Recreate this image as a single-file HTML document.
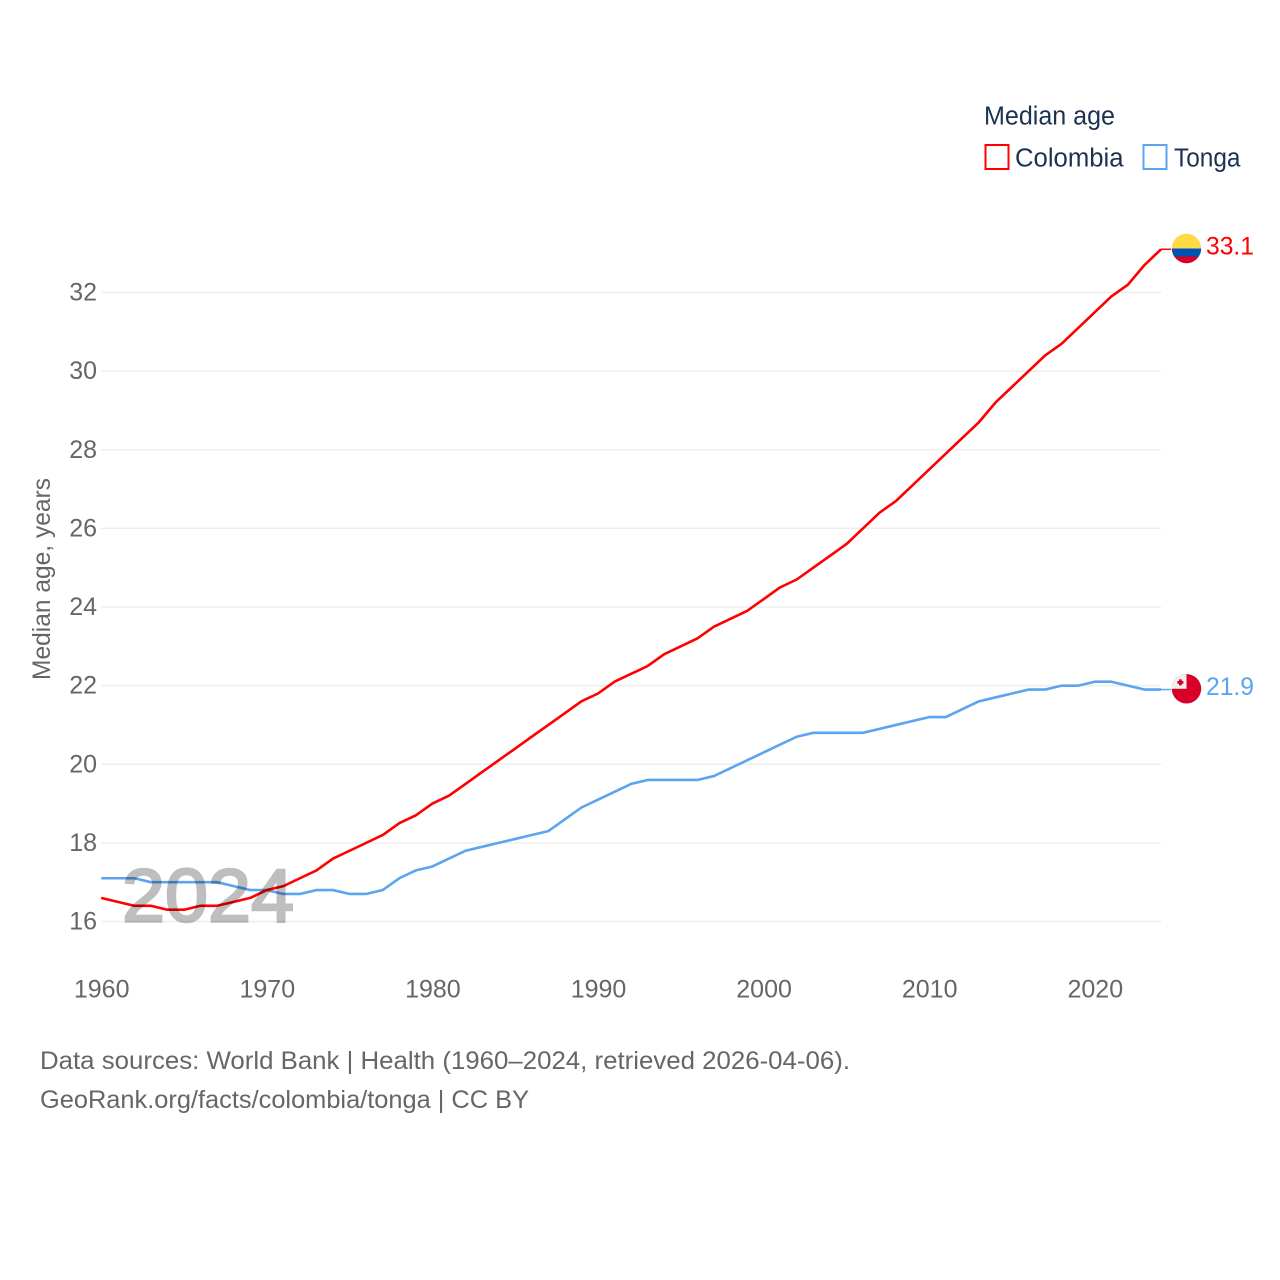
<!DOCTYPE html>
<html lang="en">
<head>
<meta charset="utf-8">
<title>Median age: Colombia and Tonga</title>
<style>
html,body{margin:0;padding:0;background:#fff;}
svg{display:block;}
text{font-family:"Liberation Sans",sans-serif;}
</style>
</head>
<body>
<svg id="chart" xmlns="http://www.w3.org/2000/svg" width="1280" height="1280" viewBox="0 0 1280 1280">
  <defs>
    <clipPath id="flag-clip"><circle cx="0" cy="0" r="14.7"></circle></clipPath>
  </defs>
  <rect width="1280" height="1280" fill="#ffffff"></rect>
  <g id="grid"></g>
  <g id="y-ticks"></g>
  <g id="x-ticks"></g>
  <text transform="translate(50,680) rotate(-90)" font-size="25" fill="#666666" textLength="202" lengthAdjust="spacingAndGlyphs">Median age, years</text>
  <g id="series"></g>
  <text id="year-watermark" x="122" y="921.5" font-size="75" fill="#000000" stroke="#000000" stroke-width="2.5" opacity="0.25" textLength="172" lengthAdjust="spacingAndGlyphs">2024</text>

  <g id="flag-colombia">
    <g clip-path="url(#flag-clip)">
      <rect x="-15" y="-15" width="30" height="15" fill="#ffda44"></rect>
      <rect x="-15" y="0" width="30" height="8" fill="#0052b4"></rect>
      <rect x="-15" y="8" width="30" height="8" fill="#d80027"></rect>
    </g>
  </g>
  <g id="flag-tonga">
    <g clip-path="url(#flag-clip)">
      <rect x="-15" y="-15" width="30" height="30" fill="#d80027"></rect>
      <rect x="-15" y="-15" width="15" height="15" fill="#f0f0f0"></rect>
      <rect x="-7.5" y="-9.4" width="2.8" height="6" fill="#d80027"></rect>
      <rect x="-9.1" y="-7.8" width="6" height="2.8" fill="#d80027"></rect>
    </g>
  </g>
  <text id="value-colombia" x="1206" y="254" font-size="25" fill="#ff0000" textLength="48" lengthAdjust="spacingAndGlyphs"></text>
  <text id="value-tonga" x="1206" y="695" font-size="25" fill="#5ba4f0" textLength="48" lengthAdjust="spacingAndGlyphs"></text>

  <g>
    <text x="984" y="124.5" font-size="25.5" fill="#1b3252" textLength="131" lengthAdjust="spacingAndGlyphs">Median age</text>
    <rect x="985.5" y="145" width="23" height="24" fill="#ffffff" stroke="#ff0000" stroke-width="2"></rect>
    <text x="1015" y="166.5" font-size="25.5" fill="#1b3252" textLength="108.5" lengthAdjust="spacingAndGlyphs">Colombia</text>
    <rect x="1143.5" y="145" width="23" height="24" fill="#ffffff" stroke="#5ba4f0" stroke-width="2"></rect>
    <text x="1174" y="166.5" font-size="25.5" fill="#1b3252" textLength="66.5" lengthAdjust="spacingAndGlyphs">Tonga</text>
  </g>

  <text x="40" y="1069" font-size="25" fill="#666666" textLength="810" lengthAdjust="spacingAndGlyphs">Data sources: World Bank | Health (1960–2024, retrieved 2026-04-06).</text>
  <text x="40" y="1108" font-size="25" fill="#666666" textLength="489" lengthAdjust="spacingAndGlyphs">GeoRank.org/facts/colombia/tonga | CC BY</text>
</svg>

<script>
var startYear = 1960;
var colombiaValues = [16.6,16.5,16.4,16.4,16.3,16.3,16.4,16.4,16.5,16.6,16.8,16.9,17.1,17.3,17.6,17.8,18.0,18.2,18.5,18.7,19.0,19.2,19.5,19.8,20.1,20.4,20.7,21.0,21.3,21.6,21.8,22.1,22.3,22.5,22.8,23.0,23.2,23.5,23.7,23.9,24.2,24.5,24.7,25.0,25.3,25.6,26.0,26.4,26.7,27.1,27.5,27.9,28.3,28.7,29.2,29.6,30.0,30.4,30.7,31.1,31.5,31.9,32.2,32.7,33.1];
var tongaValues = [17.1,17.1,17.1,17.0,17.0,17.0,17.0,17.0,16.9,16.8,16.8,16.7,16.7,16.8,16.8,16.7,16.7,16.8,17.1,17.3,17.4,17.6,17.8,17.9,18.0,18.1,18.2,18.3,18.6,18.9,19.1,19.3,19.5,19.6,19.6,19.6,19.6,19.7,19.9,20.1,20.3,20.5,20.7,20.8,20.8,20.8,20.8,20.9,21.0,21.1,21.2,21.2,21.4,21.6,21.7,21.8,21.9,21.9,22.0,22.0,22.1,22.1,22.0,21.9,21.9];
var yTickLabels = [16,18,20,22,24,26,28,30,32];
var xTickLabels = [1960,1970,1980,1990,2000,2010,2020];

var SVG_NS = 'http://www.w3.org/2000/svg';
function xScale(year){ return 101.2 + (year - 1960) * 16.56; }
function yScale(value){ return 921.5 - (value - 16) * 39.31; }

var gridGroup = document.getElementById('grid');
var yTickGroup = document.getElementById('y-ticks');
var xTickGroup = document.getElementById('x-ticks');
var seriesGroup = document.getElementById('series');
var xEnd = xScale(startYear + colombiaValues.length - 1);

yTickLabels.forEach(function(tick){
  var gridLine = document.createElementNS(SVG_NS, 'line');
  
  
  gridLine.setAttribute('x1', xScale(1960));
  gridLine.setAttribute('x2', xEnd);
  gridLine.setAttribute('y1', yScale(tick));
  gridLine.setAttribute('y2', yScale(tick));
  gridLine.setAttribute('stroke', '#eeeeee');
  gridLine.setAttribute('stroke-width', '1.5');
  gridGroup.appendChild(gridLine);

  var label = document.createElementNS(SVG_NS, 'text');
  
  
  label.setAttribute('x', 97);
  label.setAttribute('y', yScale(tick) + 8);
  label.setAttribute('text-anchor', 'end');
  label.setAttribute('font-size', '25');
  label.setAttribute('fill', '#666666');
  label.textContent = tick;
  yTickGroup.appendChild(label);
});

xTickLabels.forEach(function(tick){
  var label = document.createElementNS(SVG_NS, 'text');
  
  
  label.setAttribute('x', xScale(tick) + 0.5);
  label.setAttribute('y', 997.5);
  label.setAttribute('text-anchor', 'middle');
  label.setAttribute('font-size', '25');
  label.setAttribute('fill', '#666666');
  label.textContent = tick;
  xTickGroup.appendChild(label);
});

function pathFor(values){
  var d = '';
  values.forEach(function(value, i){
    d += (i === 0 ? 'M' : 'L') + xScale(startYear + i).toFixed(2) + ' ' + yScale(value).toFixed(2);
  });
  return d;
}

var tongaLine = document.createElementNS(SVG_NS, 'path');


tongaLine.setAttribute('d', pathFor(tongaValues));
tongaLine.setAttribute('fill', 'none');
tongaLine.setAttribute('stroke', '#5ba4f0');
tongaLine.setAttribute('stroke-width', '2.6');
tongaLine.setAttribute('stroke-linejoin', 'round');
seriesGroup.appendChild(tongaLine);

var colombiaLine = document.createElementNS(SVG_NS, 'path');


colombiaLine.setAttribute('d', pathFor(colombiaValues));
colombiaLine.setAttribute('fill', 'none');
colombiaLine.setAttribute('stroke', '#ff0000');
colombiaLine.setAttribute('stroke-width', '2.6');
colombiaLine.setAttribute('stroke-linejoin', 'round');
seriesGroup.appendChild(colombiaLine);

var colombiaLast = colombiaValues[colombiaValues.length - 1];
var tongaLast = tongaValues[tongaValues.length - 1];

var colombiaStub = document.createElementNS(SVG_NS, 'line');


colombiaStub.setAttribute('x1', xEnd);
colombiaStub.setAttribute('x2', xEnd + 10);
colombiaStub.setAttribute('y1', yScale(colombiaLast));
colombiaStub.setAttribute('y2', yScale(colombiaLast));
colombiaStub.setAttribute('stroke', '#ff0000');
colombiaStub.setAttribute('stroke-width', '1.5');
seriesGroup.appendChild(colombiaStub);

var tongaStub = document.createElementNS(SVG_NS, 'line');


tongaStub.setAttribute('x1', xEnd);
tongaStub.setAttribute('x2', xEnd + 10);
tongaStub.setAttribute('y1', yScale(tongaLast));
tongaStub.setAttribute('y2', yScale(tongaLast));
tongaStub.setAttribute('stroke', '#5ba4f0');
tongaStub.setAttribute('stroke-width', '1.5');
seriesGroup.appendChild(tongaStub);

var colombiaFlagY = yScale(colombiaLast) - 0.8;
var tongaFlagY = yScale(tongaLast) - 0.8;
document.getElementById('flag-colombia').setAttribute('transform', 'translate(1186.5,' + colombiaFlagY + ')');
document.getElementById('flag-tonga').setAttribute('transform', 'translate(1186.5,' + tongaFlagY + ')');

var colombiaLabel = document.getElementById('value-colombia');
colombiaLabel.setAttribute('y', colombiaFlagY + 5.8);
colombiaLabel.textContent = colombiaLast.toFixed(1);
var tongaLabel = document.getElementById('value-tonga');
tongaLabel.setAttribute('y', tongaFlagY + 6.2);
tongaLabel.textContent = tongaLast.toFixed(1);
</script>
</body>
</html>
